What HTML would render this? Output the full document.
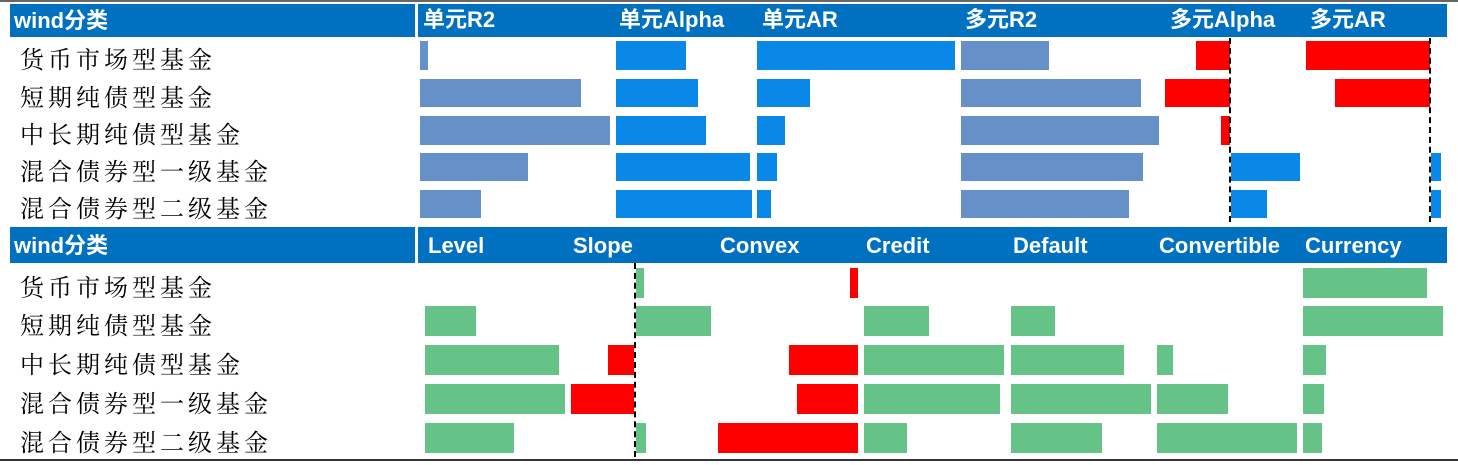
<!DOCTYPE html>
<html><head><meta charset="utf-8"><style>
body{margin:0;width:1458px;height:465px;background:#fff;position:relative;overflow:hidden;font-family:"Liberation Sans","Noto Sans CJK SC",sans-serif}
div{position:absolute}
.h{background:#0070c0}
.t{color:#fff;font-weight:bold;font-size:22px;line-height:22px}
.l{font-family:"Noto Serif CJK SC","WenQuanYi Zen Hei",serif;font-size:24px;left:20px;color:#000;line-height:26px;letter-spacing:4px}
.a{background:#6590c8}.b{background:#0a88e8}.r{background:#ff0000}.g{background:#65c387}
.z{width:0;border-left:2px dashed #000}
</style></head><body>
<div style="left:0;top:0;width:1458px;height:2px;background:#666"></div>
<div class="h" style="left:10px;top:4px;width:405px;height:33px"></div>
<div class="h" style="left:418px;top:4px;width:1029px;height:33px"></div>
<div class="t" style="left:14px;top:10px">wind分类</div>
<div class="t" style="left:423px;top:9px">单元R2</div>
<div class="t" style="left:619px;top:9px">单元Alpha</div>
<div class="t" style="left:762px;top:9px">单元AR</div>
<div class="t" style="left:965px;top:9px">多元R2</div>
<div class="t" style="left:1170px;top:9px">多元Alpha</div>
<div class="t" style="left:1310px;top:9px">多元AR</div>
<div class="l" style="top:45px">货币市场型基金</div>
<div class="l" style="top:83px">短期纯债型基金</div>
<div class="l" style="top:120px">中长期纯债型基金</div>
<div class="l" style="top:157px">混合债券型一级基金</div>
<div class="l" style="top:194px">混合债券型二级基金</div>
<!-- top bars -->
<div class="a" style="left:420px;top:41px;width:8px;height:29px"></div>
<div class="a" style="left:420px;top:79px;width:161px;height:28px"></div>
<div class="a" style="left:420px;top:116px;width:190px;height:29px"></div>
<div class="a" style="left:420px;top:153px;width:108px;height:28px"></div>
<div class="a" style="left:420px;top:190px;width:61px;height:28px"></div>
<div class="b" style="left:616px;top:41px;width:70px;height:29px"></div>
<div class="b" style="left:616px;top:79px;width:82px;height:28px"></div>
<div class="b" style="left:616px;top:116px;width:90px;height:29px"></div>
<div class="b" style="left:616px;top:153px;width:134px;height:28px"></div>
<div class="b" style="left:616px;top:190px;width:136px;height:28px"></div>
<div class="b" style="left:757px;top:41px;width:198px;height:29px"></div>
<div class="b" style="left:757px;top:79px;width:53px;height:28px"></div>
<div class="b" style="left:757px;top:116px;width:28px;height:29px"></div>
<div class="b" style="left:757px;top:153px;width:20px;height:28px"></div>
<div class="b" style="left:757px;top:190px;width:14px;height:28px"></div>
<div class="a" style="left:961px;top:41px;width:88px;height:29px"></div>
<div class="a" style="left:961px;top:79px;width:180px;height:28px"></div>
<div class="a" style="left:961px;top:116px;width:198px;height:29px"></div>
<div class="a" style="left:961px;top:153px;width:182px;height:28px"></div>
<div class="a" style="left:961px;top:190px;width:168px;height:28px"></div>
<div class="r" style="left:1196px;top:41px;width:34px;height:29px"></div>
<div class="r" style="left:1165px;top:79px;width:65px;height:28px"></div>
<div class="r" style="left:1221px;top:116px;width:9px;height:29px"></div>
<div class="b" style="left:1231px;top:153px;width:69px;height:28px"></div>
<div class="b" style="left:1231px;top:190px;width:36px;height:28px"></div>
<div class="r" style="left:1306px;top:41px;width:124px;height:29px"></div>
<div class="r" style="left:1335px;top:79px;width:95px;height:28px"></div>
<div class="b" style="left:1431px;top:153px;width:10px;height:28px"></div>
<div class="b" style="left:1431px;top:190px;width:10px;height:28px"></div>
<div class="z" style="left:1229px;top:38px;height:184px"></div>
<div class="z" style="left:1429px;top:38px;height:184px"></div>
<!-- second header -->
<div class="h" style="left:10px;top:227px;width:405px;height:36px"></div>
<div class="h" style="left:418px;top:227px;width:1029px;height:36px"></div>
<div class="t" style="left:14px;top:235px">wind分类</div>
<div class="t" style="left:428px;top:235px">Level</div>
<div class="t" style="left:573px;top:235px">Slope</div>
<div class="t" style="left:720px;top:235px">Convex</div>
<div class="t" style="left:866px;top:235px">Credit</div>
<div class="t" style="left:1013px;top:235px">Default</div>
<div class="t" style="left:1159px;top:235px">Convertible</div>
<div class="t" style="left:1305px;top:235px">Currency</div>
<div class="l" style="top:273px">货币市场型基金</div>
<div class="l" style="top:311px">短期纯债型基金</div>
<div class="l" style="top:350px">中长期纯债型基金</div>
<div class="l" style="top:389px">混合债券型一级基金</div>
<div class="l" style="top:428px">混合债券型二级基金</div>
<!-- bottom bars -->
<div class="g" style="left:425px;top:306px;width:51px;height:30px"></div>
<div class="g" style="left:425px;top:345px;width:134px;height:30px"></div>
<div class="g" style="left:425px;top:384px;width:140px;height:30px"></div>
<div class="g" style="left:425px;top:423px;width:89px;height:30px"></div>
<div class="r" style="left:608px;top:345px;width:26px;height:30px"></div>
<div class="r" style="left:571px;top:384px;width:63px;height:30px"></div>
<div class="g" style="left:636px;top:268px;width:8px;height:30px"></div>
<div class="g" style="left:636px;top:306px;width:75px;height:30px"></div>
<div class="g" style="left:636px;top:423px;width:10px;height:30px"></div>
<div class="r" style="left:850px;top:268px;width:8px;height:30px"></div>
<div class="r" style="left:789px;top:345px;width:69px;height:30px"></div>
<div class="r" style="left:797px;top:384px;width:61px;height:30px"></div>
<div class="r" style="left:718px;top:423px;width:140px;height:30px"></div>
<div class="g" style="left:864px;top:306px;width:65px;height:30px"></div>
<div class="g" style="left:864px;top:345px;width:140px;height:30px"></div>
<div class="g" style="left:864px;top:384px;width:136px;height:30px"></div>
<div class="g" style="left:864px;top:423px;width:43px;height:30px"></div>
<div class="g" style="left:1011px;top:306px;width:44px;height:30px"></div>
<div class="g" style="left:1011px;top:345px;width:113px;height:30px"></div>
<div class="g" style="left:1011px;top:384px;width:140px;height:30px"></div>
<div class="g" style="left:1011px;top:423px;width:91px;height:30px"></div>
<div class="g" style="left:1157px;top:345px;width:16px;height:30px"></div>
<div class="g" style="left:1157px;top:384px;width:71px;height:30px"></div>
<div class="g" style="left:1157px;top:423px;width:140px;height:30px"></div>
<div class="g" style="left:1303px;top:268px;width:124px;height:30px"></div>
<div class="g" style="left:1303px;top:306px;width:140px;height:30px"></div>
<div class="g" style="left:1303px;top:345px;width:23px;height:30px"></div>
<div class="g" style="left:1303px;top:384px;width:21px;height:30px"></div>
<div class="g" style="left:1303px;top:423px;width:19px;height:30px"></div>
<div class="z" style="left:634px;top:263px;height:194px"></div>
<div style="left:0;top:459px;width:1458px;height:2px;background:#333"></div>
</body></html>
